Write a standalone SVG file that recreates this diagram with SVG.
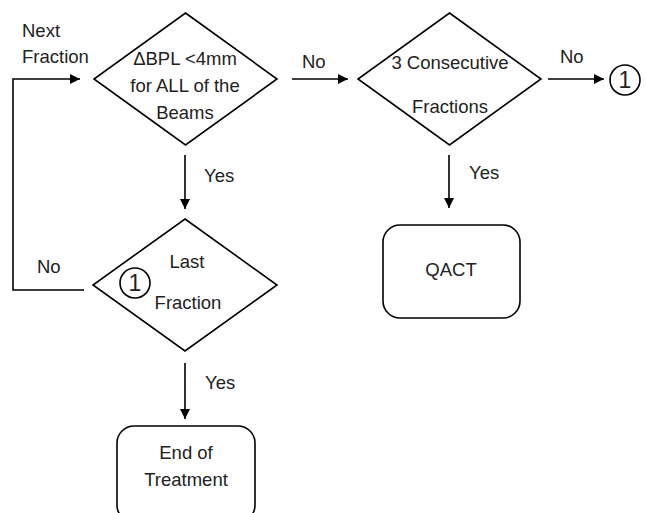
<svg xmlns="http://www.w3.org/2000/svg" width="646" height="513" viewBox="0 0 646 513">
<style>
.s{fill:#fff;stroke:#000;stroke-width:1.6}
.l{fill:none;stroke:#000;stroke-width:1.6}
text{font-family:"Liberation Sans",Arial,sans-serif;font-size:18.5px;fill:#222}
.c{text-anchor:middle}
.n{font-size:23px}
</style>
<defs>
<marker id="a" viewBox="0 0 10 10" refX="10" refY="5" markerWidth="10" markerHeight="10" markerUnits="userSpaceOnUse" orient="auto">
<path d="M0,0 L10,5 L0,10 Z" fill="#000"/>
</marker>
</defs>
<rect width="646" height="513" fill="#fff"/>
<g id="connectors">
<polyline class="l" points="84,290 13,290 13,79 80,79" marker-end="url(#a)"/>
<line class="l" x1="292" y1="79" x2="348" y2="79" marker-end="url(#a)"/>
<line class="l" x1="548" y1="79" x2="604" y2="79" marker-end="url(#a)"/>
<line class="l" x1="185" y1="155" x2="185" y2="209" marker-end="url(#a)"/>
<line class="l" x1="449" y1="155" x2="449" y2="208" marker-end="url(#a)"/>
<line class="l" x1="185" y1="363" x2="185" y2="419" marker-end="url(#a)"/>
<text x="22" y="37">Next</text>
<text x="22" y="63">Fraction</text>
<text x="302" y="68">No</text>
<text x="560" y="63">No</text>
<text x="204" y="182">Yes</text>
<text x="469" y="179">Yes</text>
<text x="37" y="273">No</text>
<text x="205" y="389">Yes</text>
</g>
<g id="n1">
<polygon class="s" points="185.5,13 277,79 185.5,145 94,79"/>
<text class="c" x="185" y="65">ΔBPL &lt;4mm</text>
<text class="c" x="185" y="92">for ALL of the</text>
<text class="c" x="185" y="119">Beams</text>
</g>
<g id="n2">
<polygon class="s" points="449.5,13 541,79 449.5,145 358,79"/>
<text class="c" x="450" y="69">3 Consecutive</text>
<text class="c" x="450" y="113">Fractions</text>
</g>
<g id="c1">
<circle class="s" cx="625" cy="80" r="15"/>
<text class="c n" x="625" y="88">1</text>
</g>
<g id="n3">
<polygon class="s" points="185,219 277,285 185,351 93,285"/>
<text class="c" x="187" y="268">Last</text>
<text class="c" x="188" y="309">Fraction</text>
<circle class="s" cx="135" cy="283" r="15"/>
<text class="c n" x="135" y="291">1</text>
</g>
<g id="n4">
<rect class="s" x="383" y="225" width="137" height="93" rx="17"/>
<text class="c" x="451" y="276">QACT</text>
</g>
<g id="n5">
<rect class="s" x="117" y="426" width="138" height="96" rx="17"/>
<text class="c" x="186" y="459">End of</text>
<text class="c" x="186" y="486">Treatment</text>
</g>
</svg>
